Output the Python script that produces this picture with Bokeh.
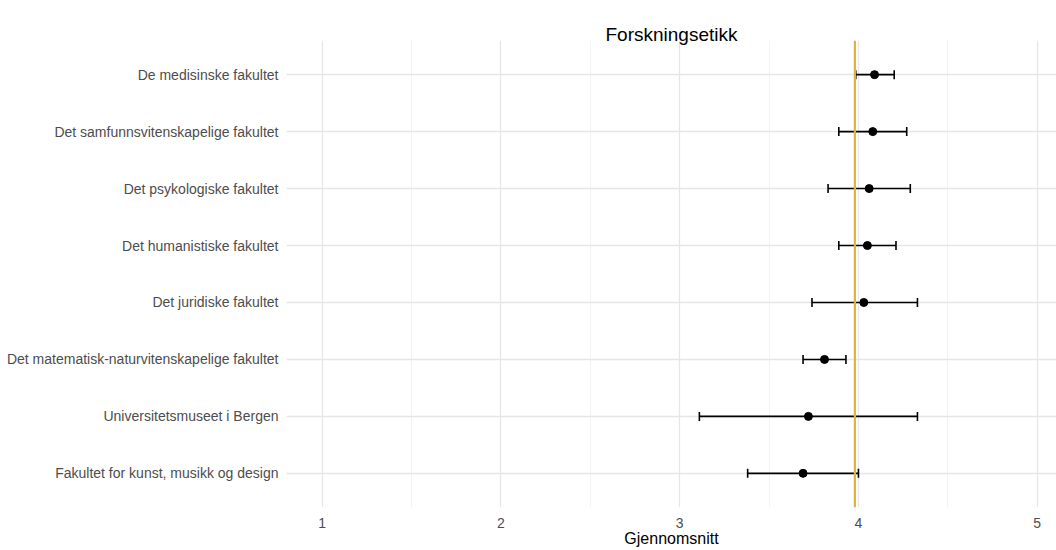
from bokeh.plotting import figure
from bokeh.models import ColumnDataSource, Range1d, FixedTicker, Whisker, TeeHead, Span, Title
from bokeh.embed import file_html
from bokeh.resources import INLINE

categories = [
    "Fakultet for kunst, musikk og design",
    "Universitetsmuseet i Bergen",
    "Det matematisk-naturvitenskapelige fakultet",
    "Det juridiske fakultet",
    "Det humanistiske fakultet",
    "Det psykologiske fakultet",
    "Det samfunnsvitenskapelige fakultet",
    "De medisinske fakultet",
]
means = [3.69, 3.72, 3.81, 4.03, 4.05, 4.06, 4.08, 4.09]
lower = [3.38, 3.11, 3.69, 3.74, 3.89, 3.83, 3.89, 3.985]
upper = [4.00, 4.33, 3.93, 4.33, 4.21, 4.29, 4.27, 4.20]
overall_mean = 3.98
x_ticks = [1, 2, 3, 4, 5]

ypos = [i + 1 for i in range(len(categories))]
src = ColumnDataSource(dict(y=ypos, mean=means, lo=lower, hi=upper))

FONT = "Liberation Sans"

p = figure(width=1056, height=550, output_backend="svg", toolbar_location=None,
           x_range=Range1d(0.8, 5.108), y_range=Range1d(0.4, len(categories) + 0.6),
           min_border_left=286, min_border_right=0, min_border_top=40, min_border_bottom=43)
p.outline_line_color = None
p.background_fill_color = "white"
p.border_fill_color = "white"

p.title.text = "Forskningsetikk"
p.title.align = "center"
p.title.offset = 15
p.title.standoff = -8
p.title.text_font = FONT
p.title.text_font_size = "19px"
p.title.text_font_style = "normal"
p.title.text_color = "black"

# x axis
p.xaxis.ticker = FixedTicker(ticks=x_ticks, minor_ticks=[1.5, 2.5, 3.5, 4.5])
p.xaxis.major_label_text_font = FONT
p.xaxis.major_label_text_font_size = "14px"
p.xaxis.major_label_text_color = "#4d4d4d"
p.xaxis.major_label_standoff = 4
p.xaxis.axis_line_color = None
p.xaxis.major_tick_line_color = None
p.xaxis.minor_tick_line_color = None

xlab = Title(text="Gjennomsnitt", align="center", offset=15, text_font=FONT,
             text_font_size="16px", text_font_style="normal", text_color="black",
             standoff=-6)
p.add_layout(xlab, "below")

# y axis
p.yaxis.ticker = FixedTicker(ticks=ypos)
p.yaxis.major_label_overrides = {y: c for y, c in zip(ypos, categories)}
p.yaxis.major_label_text_font = FONT
p.yaxis.major_label_text_font_size = "14px"
p.yaxis.major_label_text_color = "#4d4d4d"
p.yaxis.major_label_standoff = 2
p.yaxis.axis_line_color = None
p.yaxis.major_tick_line_color = None
p.yaxis.minor_tick_line_color = None

p.xgrid.grid_line_color = "#e6e6e6"
p.xgrid.grid_line_width = 1.3
p.xgrid.minor_grid_line_color = "#f2f2f2"
p.xgrid.minor_grid_line_width = 1
p.ygrid.grid_line_color = "#e6e6e6"
p.ygrid.grid_line_width = 1.3

whisk = Whisker(source=src, base="y", lower="lo", upper="hi", dimension="width",
                line_color="black", line_width=1.6,
                upper_head=TeeHead(size=9, line_color="black", line_width=1.6),
                lower_head=TeeHead(size=9, line_color="black", line_width=1.6))
p.add_layout(whisk)

p.add_layout(Span(location=overall_mean, dimension="height", line_color="#E2B23A", line_width=2.2))

p.scatter(x="mean", y="y", source=src, size=8, color="black")

open("out.html", "w").write(file_html(p, INLINE))
